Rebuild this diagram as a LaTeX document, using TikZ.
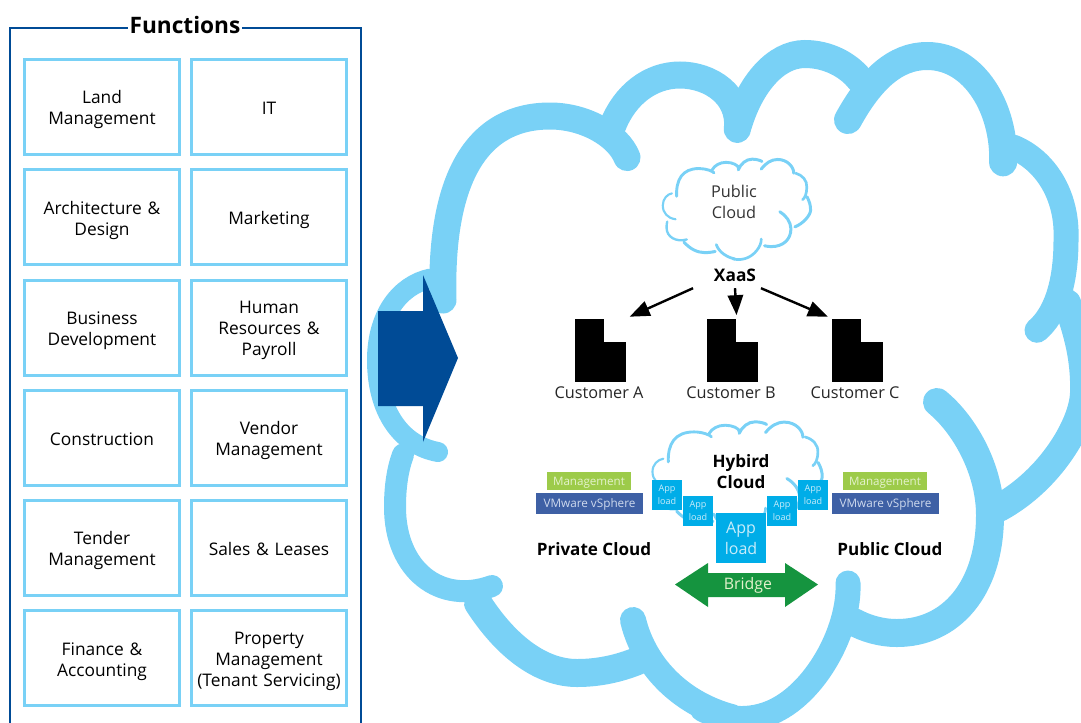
\documentclass[tikz,border=0pt]{standalone}
\usepackage{fontspec}
\setmainfont{Open Sans}
\usepackage{xcolor}
\usetikzlibrary{arrows.meta,positioning,calc}

\definecolor{cloudblue}{HTML}{79D1F6}
\definecolor{frameblue}{HTML}{004B96}
\definecolor{appblue}{HTML}{00ADE8}
\definecolor{apptext}{HTML}{C8ECFA}
\definecolor{mgmtgreen}{HTML}{9DCB4A}
\definecolor{mgmttext}{HTML}{E4F2CC}
\definecolor{vmblue}{HTML}{3E60A5}
\definecolor{vmtext}{HTML}{CFDAEE}
\definecolor{bridgegreen}{HTML}{15943F}

\newlength{\cloudlw}
\newcommand{\cloudarc}[2]{\draw[cloudblue,line cap=round,line width=#1\cloudlw] #2;}
% the same arcs make the large cloud and both small ones
\newcommand{\cloudarcs}{
	\cloudarc{1.08}{(443,300) .. controls (440,190) and (470,116) .. (550,116) .. controls (585,116) and (618,135) .. (628,160)}
	\cloudarc{1.08}{(613,125) .. controls (625,95) and (650,75) .. (680,75) .. controls (710,75) and (741,95) .. (737,132)}
	\cloudarc{1.12}{(738,125) .. controls (750,85) and (775,54) .. (805,54) .. controls (828,54) and (848,65) .. (861,81)}
	\cloudarc{1.12}{(848,120) .. controls (870,80) and (895,56) .. (927,56) .. controls (975,56) and (1005,110) .. (1003,165)}
	\cloudarc{1.0}{(1013,147) .. controls (1045,160) and (1068,195) .. (1066,240) .. controls (1066,285) and (1055,315) .. (1035,332)}
	\cloudarc{1.12}{(1067,303) .. controls (1078,333) and (1085,360) .. (1084,393) .. controls (1083,425) and (1050,480) .. (997,509)}
	\cloudarc{1.12}{(937,402) .. controls (965,425) and (990,470) .. (990,515) .. controls (990,590) and (950,633) .. (897,633) .. controls (880,633) and (865,628) .. (852,621)}
	\cloudarc{1.0}{(848,583) .. controls (850,630) and (815,695) .. (770,713) .. controls (745,723) and (720,718) .. (700,708)}
	\cloudarc{1.04}{(633,620) .. controls (645,670) and (685,705) .. (735,718)}
	\cloudarc{1.12}{(478,603) .. controls (505,645) and (540,673) .. (577,673) .. controls (600,673) and (620,668) .. (640,660)}
	\cloudarc{0.88}{(492,586) .. controls (440,605) and (395,570) .. (395,507) .. controls (395,485) and (398,468) .. (404,452)}
	\cloudarc{0.8}{(438,452) .. controls (400,445) and (377,410) .. (377,360) .. controls (377,315) and (400,285) .. (433,278)}
}

\begin{document}
\begin{tikzpicture}[x=0.75pt,y=-0.75pt,>={Triangle[length=15pt,width=11.5pt]},shorten >=2pt,
	node distance=82.7pt, line width=1.8pt]
	
	\tikzstyle{funcbox}=[rectangle, draw=cloudblue, line width=2.25pt, fill=white,
	minimum width=116.25pt, minimum height=71.25pt, inner sep=0pt,
	text width=114pt, text centered, text=black,
	execute at begin node={\rule{0pt}{14.5pt}}, execute at end node={\rule[-3.5pt]{0pt}{3.5pt}},
	font=\fontsize{13pt}{15.75pt}\selectfont]
	\tikzstyle{bigload}=[rectangle, fill=appblue, text=apptext, minimum size=37.5pt, inner sep=0pt,
	text width=37.5pt, text centered, font=\fontsize{12pt}{15.5pt}\selectfont]
	\tikzstyle{smallload}=[rectangle, fill=appblue, text=apptext, minimum size=22.5pt, inner sep=0pt,
	text width=22.5pt, text centered, font=\fontsize{6.8pt}{9.5pt}\selectfont]
	\tikzstyle{mgmtbox}=[rectangle, fill=mgmtgreen, text=mgmttext, minimum width=63pt, minimum height=13.5pt,
	inner sep=0pt, text height=7.5pt, text depth=1.5pt, font=\fontsize{8.7pt}{10pt}\selectfont]
	\tikzstyle{vmbox}=[rectangle, fill=vmblue, text=vmtext, minimum width=80.25pt, minimum height=15.75pt,
	inner sep=0pt, text height=7.5pt, text depth=1.5pt, font=\fontsize{8.8pt}{10pt}\selectfont]
	\tikzstyle{custblock}=[rectangle, fill=black, inner sep=0pt]
	\tikzstyle{custlabel}=[text=black!85, font=\fontsize{12.2pt}{14pt}\selectfont]
	\tikzstyle{boldlabel}=[text=black, align=center, font=\fontsize{12.8pt}{15.5pt}\selectfont\bfseries]
	
	\useasboundingbox (0,0) rectangle (1081,722);
	\clip (0,0) rectangle (1081,722);
	
	%large cloud
	\setlength{\cloudlw}{18.75pt}
	\cloudarcs
	
	%small clouds
	\setlength{\cloudlw}{2pt}
	\begin{scope}[shift={(584,151)},xscale=0.209,yscale=0.151]
		\cloudarcs
	\end{scope}
	\begin{scope}[shift={(562,413)},xscale=0.24,yscale=0.163]
		\cloudarcs
	\end{scope}
	
	%functions frame
	\draw[frameblue,line width=2pt] (10,760) -- (10,28) -- (361,28) -- (361,760);
	\node[fill=white, inner sep=1pt, font=\fontsize{17pt}{20pt}\selectfont\bfseries]
	(functions) at (185,25)
	{Functions};
	
	%first column
	\node[funcbox]
	(land) at (102,107)
	{Land\\Management};
	
	\node[funcbox]
	(arch) [below of=land]
	{Architecture \&\\Design};
	
	\node[funcbox]
	(business) [below of=arch]
	{Business\\Development};
	
	\node[funcbox]
	(construction) [below of=business]
	{Construction};
	
	\node[funcbox]
	(tender) [below of=construction]
	{Tender\\Management};
	
	\node[funcbox]
	(finance) [below of=tender]
	{Finance \&\\Accounting};
	
	%second column
	\node[funcbox]
	(it) [right of=land, node distance=125.25pt]
	{IT};
	
	\node[funcbox]
	(marketing) [below of=it]
	{Marketing};
	
	\node[funcbox]
	(human) [below of=marketing]
	{Human\\Resources \&\\Payroll};
	
	\node[funcbox]
	(vendor) [below of=human]
	{Vendor\\Management};
	
	\node[funcbox]
	(sales) [below of=vendor]
	{Sales \& Leases};
	
	\node[funcbox]
	(property) [below of=sales]
	{Property\\Management\\(Tenant Servicing)};
	
	%big arrow
	\fill[frameblue] (378,311) -- (423,311) -- (423,275) -- (458,358) -- (423,442) -- (423,406) -- (378,406) -- cycle;
	
	%public cloud and customers
	\node[text=black!80, align=center, font=\fontsize{12.2pt}{16pt}\selectfont]
	(publiccloud) at (734,202)
	{Public\\Cloud};
	
	\node[inner sep=0pt, minimum height=18pt, font=\fontsize{13pt}{15pt}\selectfont\bfseries]
	(xaas) at (735,275)
	{XaaS};
	
	\foreach \name/\basex/\tabx in {A/600.5/589.5, B/732/721, C/857/846}
	{
		\node[custblock, minimum width=38.25pt, minimum height=30pt]
		(base\name) at (\basex,362) {};
		\node[custblock, minimum width=21.75pt, minimum height=18pt]
		(tab\name) at (\tabx,331) {};
	}
	
	\node[custlabel] (customerA) at (599,393) {Customer A};
	\node[custlabel] (customerB) at (731,393) {Customer B};
	\node[custlabel] (customerC) at (855,393) {Customer C};
	
	\draw[->] ($(xaas.south)+(-42,0)$) -- (baseA.east |- tabA.north);
	\draw[->] (xaas.south) -- (tabB.north east);
	\draw[->] ($(xaas.south)+(26,0)$) -- (tabC.north west);
	
	%hybrid cloud
	\node[boldlabel]
	(hybrid) at (741,471.5)
	{Hybird\\Cloud};
	
	\node[smallload] (loadA) at (667,495) {App\\load};
	\node[smallload] (loadB) at (698,511) {App\\load};
	\node[smallload] (loadC) at (782,511) {App\\load};
	\node[smallload] (loadD) at (813,495) {App\\load};
	\node[bigload] (loadbig) at (741,538) {App\\load};
	
	\node[mgmtbox] (mgmtleft) at (589,481) {Management};
	\node[vmbox] (vmleft) at (589.5,503.5) {VMware vSphere};
	\node[mgmtbox] (mgmtright) at (885,481) {Management};
	\node[vmbox] (vmright) at (885.5,503.5) {VMware vSphere};
	
	\node[boldlabel] (privatecloud) at (594,549.5) {Private Cloud};
	\node[boldlabel] (publicright) at (890,549.5) {Public Cloud};
	
	%bridge
	\fill[bridgegreen] (675,584.5) -- (708,563) -- (708,573) -- (785,573) -- (785,563) -- (818,584.5) -- (785,607) -- (785,597) -- (708,597) -- (708,607) -- cycle;
	\node[text=mgmttext, font=\fontsize{11.9pt}{14pt}\selectfont]
	(bridge) at (748,585)
	{Bridge};
	
\end{tikzpicture}
\end{document}
